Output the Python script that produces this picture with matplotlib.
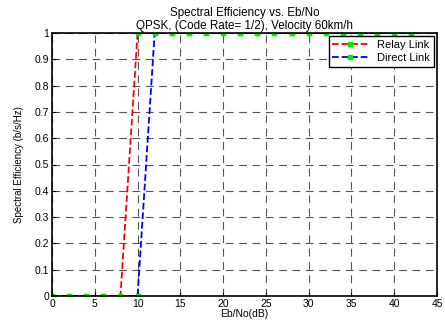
import matplotlib
matplotlib.use("Agg")
import matplotlib.pyplot as plt
import numpy as np

# Eb/No in dB
ebno = [0, 2, 4, 6, 8, 10, 12, 14, 16, 18, 20, 22, 24, 26, 28, 30, 32, 34, 36, 38, 40, 42]
# spectral efficiency (b/s/Hz)
relay = [0, 0, 0, 0, 0, 1, 1, 1, 1, 1, 1, 1, 1, 1, 1, 1, 1, 1, 1, 1, 1, 1]
direct = [0, 0, 0, 0, 0, 0, 1, 1, 1, 1, 1, 1, 1, 1, 1, 1, 1, 1, 1, 1, 1, 1]

plt.rcParams["font.family"] = ["Liberation Sans", "DejaVu Sans"]

fig = plt.figure(figsize=(4.45, 3.25), dpi=100)
ax = fig.add_axes([52 / 445, 1 - 296 / 325, 385 / 445, 263 / 325])

ax.plot(ebno, relay, color="red", linestyle="--", linewidth=1.3,
        marker="s", markersize=2.6, markerfacecolor="#00ee00", markeredgecolor="#00ee00",
        label="Relay Link")
ax.plot(ebno, direct, color="blue", linestyle="--", linewidth=1.3,
        marker="s", markersize=2.6, markerfacecolor="#00ee00", markeredgecolor="#00ee00",
        label="Direct Link")

ax.set_xlim(0, 45)
ax.set_ylim(0, 1)
ax.set_xticks(np.arange(0, 46, 5))
ax.set_yticks(np.arange(0, 1.01, 0.1))
ax.set_yticklabels(["0", "0.1", "0.2", "0.3", "0.4", "0.5", "0.6", "0.7", "0.8", "0.9", "1"])
ax.tick_params(labelsize=7.5, direction="in", length=3, pad=2)
ax.grid(True, color="#555555", linestyle=(0, (7, 5)), linewidth=0.8)
for s in ax.spines.values():
    s.set_linewidth(1.2)

ax.set_xlabel("Eb/No(dB)", fontsize=7.5, labelpad=0)
ax.set_ylabel("Spectral Efficiency (b/s/Hz)", fontsize=7, labelpad=8)
ax.set_title("Spectral Efficiency vs. Eb/No\nQPSK, (Code Rate= 1/2), Velocity 60km/h",
             fontsize=8.4, pad=3, linespacing=1.05)

leg = ax.legend(loc="upper right", fontsize=8, fancybox=False, edgecolor="black",
                framealpha=1, borderpad=0.35, handlelength=3.2, labelspacing=0.25,
                borderaxespad=0.3)
leg.get_frame().set_linewidth(1.0)

fig.savefig("out.png", dpi=100)
